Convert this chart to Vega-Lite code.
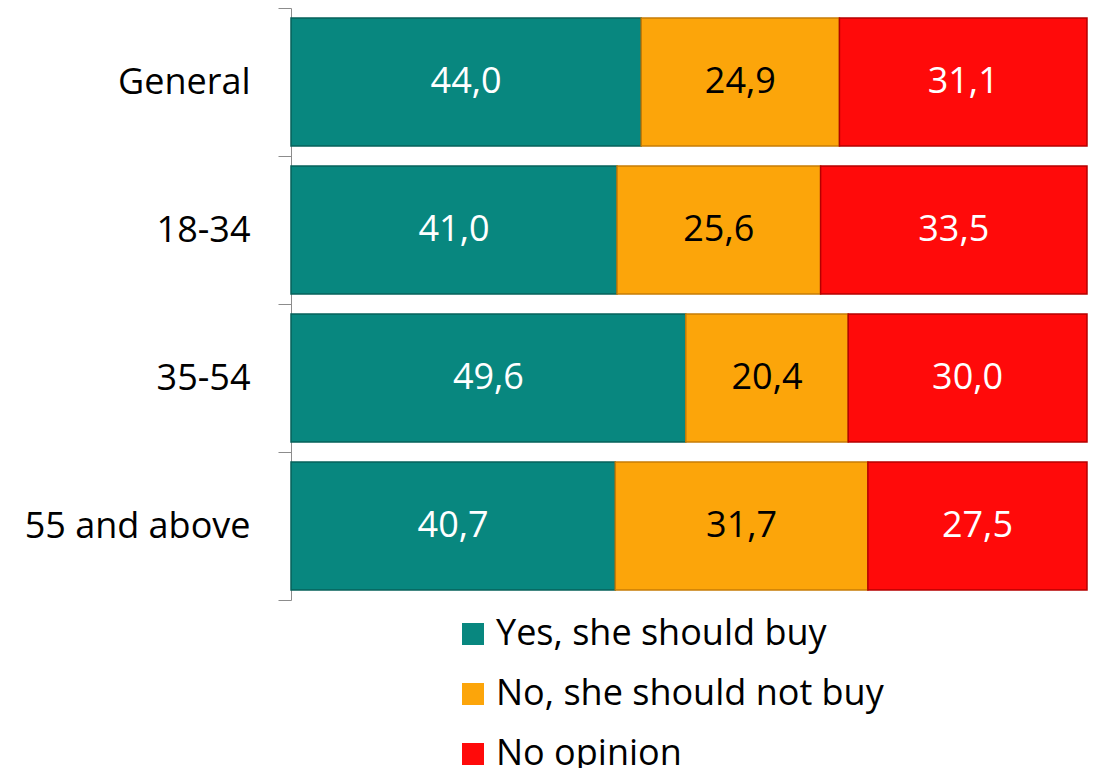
{
  "$schema": "https://vega.github.io/schema/vega-lite/v6.json",
  "width": 796,
  "height": 592,
  "autosize": "none",
  "padding": {"left": 291, "top": 8, "right": 7, "bottom": 168},
  "background": "white",
  "config": {
    "view": {"stroke": null},
    "font": "Open Sans",
    "locale": {"number": {"decimal": ",", "thousands": ".", "grouping": [3], "currency": ["", ""]}}
  },
  "data": {
    "values": [
      {"group": "General", "answer": "Yes, she should buy", "o": 1, "value": 44.0},
      {"group": "General", "answer": "No, she should not buy", "o": 2, "value": 24.9},
      {"group": "General", "answer": "No opinion", "o": 3, "value": 31.1},
      {"group": "18-34", "answer": "Yes, she should buy", "o": 1, "value": 41.0},
      {"group": "18-34", "answer": "No, she should not buy", "o": 2, "value": 25.6},
      {"group": "18-34", "answer": "No opinion", "o": 3, "value": 33.5},
      {"group": "35-54", "answer": "Yes, she should buy", "o": 1, "value": 49.6},
      {"group": "35-54", "answer": "No, she should not buy", "o": 2, "value": 20.4},
      {"group": "35-54", "answer": "No opinion", "o": 3, "value": 30.0},
      {"group": "55 and above", "answer": "Yes, she should buy", "o": 1, "value": 40.7},
      {"group": "55 and above", "answer": "No, she should not buy", "o": 2, "value": 31.7},
      {"group": "55 and above", "answer": "No opinion", "o": 3, "value": 27.5}
    ]
  },
  "transform": [
    {"stack": "value", "groupby": ["group"], "sort": [{"field": "o"}], "as": ["x0", "x1"], "offset": "normalize"},
    {"calculate": "(datum.x0 + datum.x1) / 2", "as": "xm"}
  ],
  "encoding": {
    "y": {
      "field": "group",
      "type": "nominal",
      "sort": ["General", "18-34", "35-54", "55 and above"],
      "scale": {"paddingInner": 0, "paddingOuter": 0},
      "axis": {
        "title": null,
        "tickBand": "extent",
        "domainColor": "#8c8c8c",
        "tickColor": "#8c8c8c",
        "tickSize": 13,
        "labelPadding": 28,
        "labelFontSize": 36,
        "labelColor": "black",
        "labelFont": "Open Sans",
        "labelLimit": 400
      }
    }
  },
  "layer": [
    {
      "mark": {"type": "bar", "strokeWidth": 1.5, "height": {"band": 0.865}},
      "encoding": {
        "x": {"field": "x0", "type": "quantitative", "scale": {"domain": [0, 1]}, "axis": null},
        "x2": {"field": "x1"},
        "color": {
          "field": "answer",
          "type": "nominal",
          "scale": {
            "domain": ["Yes, she should buy", "No, she should not buy", "No opinion"],
            "range": ["#08877f", "#fca50a", "#ff0a0a"]
          },
          "legend": {
            "title": null,
            "orient": "none",
            "legendX": 164,
            "legendY": 608,
            "direction": "vertical",
            "symbolType": "square",
            "symbolSize": 484,
            "symbolStrokeWidth": 0,
            "labelFontSize": 36,
            "labelColor": "black",
            "labelFont": "Open Sans",
            "labelLimit": 600,
            "rowPadding": 24,
            "labelOffset": 5
          }
        },
        "stroke": {
          "field": "answer",
          "type": "nominal",
          "scale": {
            "domain": ["Yes, she should buy", "No, she should not buy", "No opinion"],
            "range": ["#06615b", "#c67c06", "#b50000"]
          },
          "legend": null
        }
      }
    },
    {
      "mark": {"type": "text", "fontSize": 36, "font": "Open Sans", "align": "center", "baseline": "middle"},
      "encoding": {
        "x": {"field": "xm", "type": "quantitative", "scale": {"domain": [0, 1]}},
        "text": {"field": "value", "type": "quantitative", "format": ".1f"},
        "color": {
          "condition": {"test": "datum.answer === 'No, she should not buy'", "value": "black"},
          "value": "white"
        }
      }
    }
  ]
}
